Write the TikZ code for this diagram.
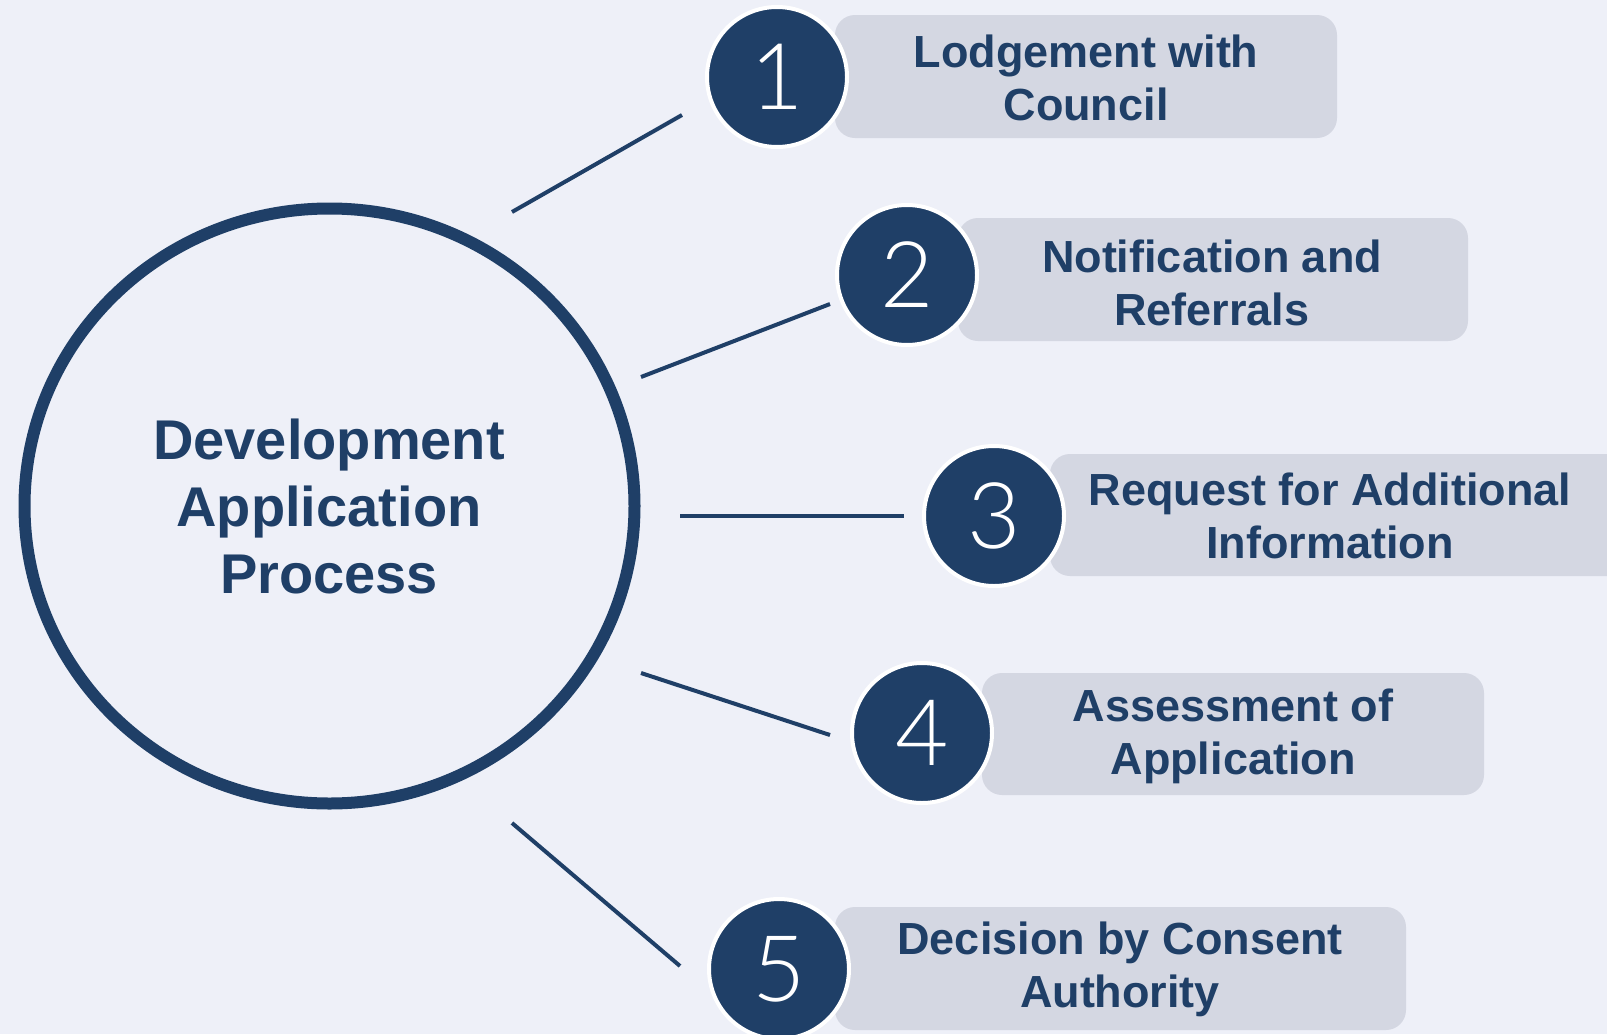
\documentclass[tikz,border=0pt]{standalone}
\usepackage{fontspec}
\usetikzlibrary{shapes.geometric}
\setmainfont{Liberation Sans}
\newfontfamily\numfont{Lato Light}
\definecolor{bgc}{RGB}{238,240,248}
\definecolor{navy}{RGB}{31,63,103}
\definecolor{boxg}{RGB}{212,215,226}
\begin{document}
\begin{tikzpicture}[x=1pt,y=-1pt,
  stepbg/.style={fill=boxg,rounded corners=20pt,draw=none},
  steptxt/.style={text=navy,font=\bfseries\fontsize{45}{53}\selectfont,align=center},
  numc/.style={circle,fill=navy,draw=white,line width=4pt,minimum size=140pt,inner sep=0pt,text=white,font=\numfont\fontsize{92}{92}\selectfont},
  link/.style={draw=navy,line width=4pt}]
\fill[bgc] (0,0) rectangle (1607,1034);
\useasboundingbox (0,0) rectangle (1607,1034);
% central circle
\node[ellipse,draw=navy,line width=12pt,minimum width=610pt,minimum height=595pt,inner sep=0pt] (big) at (329.5,506) {};
\node[text=navy,font=\bfseries\fontsize{56}{67}\selectfont,align=center] (bigt) at (329,506) {Development\\Application\\Process};
% boxes
\fill[stepbg] (835,15) rectangle (1337,138);
\fill[stepbg] (958,218) rectangle (1468,341);
\fill[stepbg] (1050,454) rectangle (1640,576);
\fill[stepbg] (982,673) rectangle (1484,795);
\fill[stepbg] (835,907) rectangle (1406,1030);
\node[steptxt] (t1) at (1086,78) {Lodgement with\\Council};
\node[steptxt] (t2) at (1212,283) {Notification and\\Referrals};
\node[steptxt] (t3) at (1330,516) {Request for Additional\\Information};
\node[steptxt] (t4) at (1233,736) {Assessment of\\Application};
\node[steptxt] (t5) at (1120,969) {Decision by Consent\\Authority};
% number circles
\node[numc] (n1) at (777,77) {1};
\node[numc] (n2) at (907,275) {2};
\node[numc] (n3) at (994,516) {3};
\node[numc] (n4) at (922,733) {4};
\node[numc] (n5) at (779,969) {5};
% connectors
\coordinate (a1) at (512,212); \coordinate (b1) at (682,115);
\coordinate (a2) at (641,377); \coordinate (b2) at (830,304);
\coordinate (a3) at (680,516); \coordinate (b3) at (904,516);
\coordinate (a4) at (641,673); \coordinate (b4) at (830,735);
\coordinate (a5) at (512,823); \coordinate (b5) at (680,966);
\draw[link] (a1) -- (b1);
\draw[link] (a2) -- (b2);
\draw[link] (a3) -- (b3);
\draw[link] (a4) -- (b4);
\draw[link] (a5) -- (b5);
\end{tikzpicture}
\end{document}
